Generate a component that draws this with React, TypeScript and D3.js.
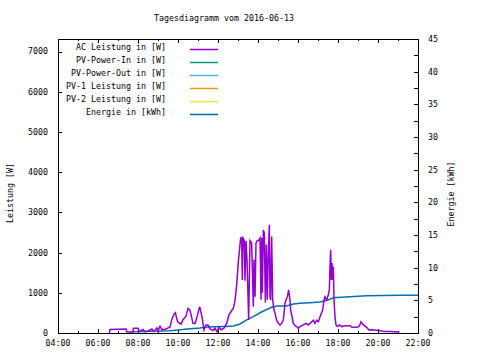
import * as d3 from "d3";

// AC Leistung [W] ("HH:MM", watts)
const acLeistung: [string, number][] = [
    ["06:34", 0], ["06:36", 90], ["07:24", 100], ["07:27", 25], ["07:45", 25], ["07:46", 120],
    ["08:00", 120], ["08:03", 40], ["08:15", 90], ["08:21", 30], ["08:30", 50], ["08:42", 100],
    ["08:48", 40], ["08:57", 130], ["09:00", 50], ["09:06", 170], ["09:12", 80], ["09:24", 100],
    ["09:36", 150], ["09:42", 350], ["09:48", 470], ["09:52", 505], ["09:59", 280], ["10:09", 220],
    ["10:15", 330], ["10:24", 420], ["10:30", 615], ["10:36", 570], ["10:45", 240], ["10:51", 230],
    ["10:57", 400], ["11:05", 655], ["11:12", 400], ["11:18", 75], ["11:24", 200], ["11:30", 200],
    ["11:36", 100], ["11:45", 60], ["11:51", 120], ["11:57", 30], ["12:03", 150], ["12:09", 80],
    ["12:18", 120], ["12:26", 240], ["12:33", 450], ["12:46", 615], ["12:51", 800], ["12:56", 1190],
    ["13:01", 1775], ["13:08", 2360], ["13:11", 2360], ["13:13", 1320], ["13:15", 2360], ["13:19", 2300],
    ["13:21", 1300], ["13:24", 2290], ["13:27", 1830], ["13:32", 325], ["13:36", 2300], ["13:41", 2240],
    ["13:46", 655], ["13:48", 1830], ["13:51", 900], ["13:54", 2240], ["13:58", 2300], ["14:02", 2300],
    ["14:06", 2360], ["14:09", 830], ["14:11", 2360], ["14:13", 1000], ["14:16", 2560], ["14:19", 2480],
    ["14:22", 760], ["14:25", 2200], ["14:28", 830], ["14:31", 2000], ["14:34", 2690], ["14:36", 900],
    ["14:38", 820], ["14:41", 2400], ["14:44", 820], ["14:48", 570], ["14:51", 490], ["14:56", 320],
    ["15:01", 240], ["15:06", 200], ["15:11", 240], ["15:16", 320], ["15:21", 740], ["15:24", 820],
    ["15:28", 900], ["15:32", 1070], ["15:36", 820], ["15:38", 570], ["15:41", 450], ["15:46", 240],
    ["15:51", 180], ["15:56", 160], ["16:01", 115], ["16:06", 160], ["16:16", 200], ["16:24", 240],
    ["16:31", 200], ["16:36", 240], ["16:46", 320], ["16:51", 240], ["16:56", 320], ["17:01", 280],
    ["17:08", 450], ["17:14", 570], ["17:18", 820], ["17:21", 900], ["17:26", 820], ["17:31", 950],
    ["17:34", 1070], ["17:36", 1650], ["17:38", 2070], ["17:40", 1320], ["17:42", 1740], ["17:44", 1320],
    ["17:46", 1650], ["17:48", 830], ["17:51", 400], ["17:54", 200], ["17:58", 160], ["18:04", 200],
    ["18:11", 160], ["18:21", 180], ["18:36", 180], ["18:42", 140], ["18:57", 140], ["19:04", 170],
    ["19:09", 280], ["19:16", 200], ["19:26", 140], ["19:33", 75], ["19:41", 80], ["19:56", 70],
    ["20:11", 50], ["20:21", 40], ["20:36", 35], ["20:51", 30], ["21:01", 25], ["21:04", 0],
];

// Energie [kWh]
const energie: [string, number][] = [
    ["07:41", 0], ["07:45", 0.2], ["09:36", 0.35], ["10:00", 0.46], ["10:27", 0.6], ["11:06", 0.76],
    ["11:27", 0.9], ["12:12", 1.0], ["12:26", 1.0], ["12:46", 1.07], ["13:06", 1.38], ["13:26", 2.0],
    ["13:46", 2.5], ["14:06", 3.1], ["14:26", 3.6], ["14:41", 3.93], ["14:56", 4.13], ["15:26", 4.13],
    ["15:46", 4.44], ["16:06", 4.54], ["16:36", 4.64], ["17:06", 4.75], ["17:21", 4.95], ["17:36", 5.16],
    ["17:46", 5.4], ["17:56", 5.45], ["18:36", 5.56], ["19:26", 5.71], ["21:06", 5.77], ["22:00", 5.77],
];

// no data for these in this day
const pvPowerIn: [string, number][] = [];
const pvPowerOut: [string, number][] = [];
const pv1: [string, number][] = [];
const pv2: [string, number][] = [];

const legendNames = ["AC Leistung in [W]", "PV-Power-In in [W]", "PV-Power-Out in [W]",
    "PV-1 Leistung in [W]", "PV-2 Leistung in [W]", "Energie in [kWh]"];
const legendColors = ["#9400D3", "#009E73", "#56B4E9", "#E69F00", "#F0E442", "#0072B2"];

const yTicks = [0, 1000, 2000, 3000, 4000, 5000, 6000, 7000];
const y2Ticks = [0, 5, 10, 15, 20, 25, 30, 35, 40, 45];
const xTickHours = [4, 6, 8, 10, 12, 14, 16, 18, 20, 22];

const toHours = (s: string) => {
    const [h, m] = s.split(":").map(Number);
    return h + m / 60;
};
const fmt = (h: number) => (h < 10 ? "0" : "") + h + ":00";

export default function App() {
    const width = 480;
    const height = 360;
    const left = 58, right = 418, top = 39, bottom = 333;
    const font = "'DejaVu Sans Mono', monospace";
    const fs = 8.3;

    const x = d3.scaleLinear().domain([4, 22]).range([left, right]);
    const y = d3.scaleLinear().domain([0, 7313]).range([bottom, top]);
    const y2 = d3.scaleLinear().domain([0, 45]).range([bottom, top]);

    const lineW = d3.line<[string, number]>().x(d => x(toHours(d[0]))).y(d => y(d[1]));
    const lineE = d3.line<[string, number]>().x(d => x(toHours(d[0]))).y(d => y2(d[1]));

    const powerSeries = [acLeistung, pvPowerIn, pvPowerOut, pv1, pv2];

    return (
        <svg width={width} height={height} style={{position: "absolute", left: 0, top: 0, background: "white"}}
             fontFamily={font} fontSize={fs}>
            <text x={224} y={20.5} textAnchor="middle">Tagesdiagramm vom 2016-06-13</text>

            {/* left axis ticks */}
            {yTicks.map(t =>
                <g key={"y" + t}>
                    <line x1={left} x2={left + 4} y1={Math.round(y(t)) + 0.5} y2={Math.round(y(t)) + 0.5} stroke="black"/>
                    <text x={48} y={y(t)} dy="0.35em" textAnchor="end">{t}</text>
                </g>
            )}
            {/* right axis ticks, minor every 2.5 */}
            {d3.range(0, 45.1, 2.5).map(t =>
                <line key={"y2" + t} x1={right - 4} x2={right} y1={Math.round(y2(t)) + 0.5}
                      y2={Math.round(y2(t)) + 0.5} stroke="black"/>
            )}
            {y2Ticks.map(t =>
                <text key={"y2l" + t} x={428} y={y2(t)} dy="0.35em">{t}</text>
            )}
            {/* x ticks, bottom and top */}
            {d3.range(4, 22.1, 1).map(h => {
                const px = Math.round(x(h)) + 0.5;
                const len = h % 2 === 0 ? 4 : 2;
                return <g key={"x" + h}>
                    <line x1={px} x2={px} y1={bottom} y2={bottom - len} stroke="black"/>
                    <line x1={px} x2={px} y1={top} y2={top + len} stroke="black"/>
                </g>
            })}
            {xTickHours.map(h =>
                <text key={"xl" + h} x={x(h)} y={343.5} dy="0.35em" textAnchor="middle">{fmt(h)}</text>
            )}

            {/* series */}
            <path d={lineE(energie) || ""} fill="none" stroke={legendColors[5]} strokeWidth={1.5}/>
            {powerSeries.map((s, i) =>
                <path key={"s" + i} d={lineW(s) || ""} fill="none" stroke={legendColors[i]} strokeWidth={1.5}/>
            )}

            {/* frame */}
            <rect x={left + 0.5} y={top + 0.5} width={right - left} height={bottom - top} fill="none" stroke="black"/>

            {/* legend */}
            {legendNames.map((name, i) =>
                <g key={name}>
                    <text x={166} y={47.5 + i * 13} dy="0.35em" textAnchor="end">{name}</text>
                    <line x1={190} x2={218} y1={49.5 + i * 13} y2={49.5 + i * 13} stroke={legendColors[i]}
                          strokeWidth={1.5}/>
                </g>
            )}

            {/* axis titles */}
            <text transform="translate(10,193) rotate(-90)" dy="0.35em" textAnchor="middle">Leistung [W]</text>
            <text transform="translate(451.5,194) rotate(-90)" dy="0.35em" textAnchor="middle">Energie [kWh]</text>
        </svg>
    )
}
